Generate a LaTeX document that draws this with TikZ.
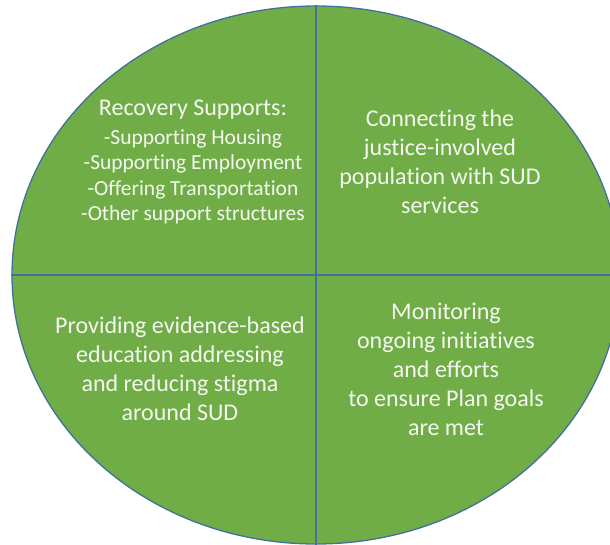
\documentclass[tikz,border=0pt]{standalone}
\usepackage{fontspec}
\setmainfont[Ligatures=NoCommon]{Carlito}
\usetikzlibrary{shapes.geometric}
\definecolor{pgreen}{HTML}{70AD47}
\definecolor{pblue}{HTML}{41719C}
\definecolor{ptext}{HTML}{F4F8F0}
\begin{document}
\begin{tikzpicture}[x=1pt,y=-1pt,
  quad/.style={text=ptext,align=center,inner sep=0pt,font=\fontsize{24}{29}\selectfont},
  divider/.style={draw=pblue,line width=1.3pt}]
\useasboundingbox (0,0) rectangle (610,545);
\clip (0,0) rectangle (610,545);
\node[ellipse,draw=pblue,line width=1.3pt,fill=pgreen,minimum width=608pt,minimum height=538pt,inner sep=0pt] (e) at (316,275) {};
\draw[divider] (e.north) -- (e.south);
\draw[divider] (e.west) -- (e.east);
\node[quad] (tl) at (193,162) {Recovery Supports:\\
  {\fontsize{21.5}{25.5}\selectfont -Supporting Housing}\\[-3.5pt]
  {\fontsize{21.5}{25.5}\selectfont -Supporting Employment}\\[-3.5pt]
  {\fontsize{21.5}{25.5}\selectfont -Offering Transportation}\\[-3.5pt]
  {\fontsize{21.5}{25.5}\selectfont -Other support structures}};
\node[quad] (tr) at (440,162) {Connecting the\\ justice-involved\\ population with SUD\\ services};
\node[quad] (bl) at (180,369) {Providing evidence-based\\ education addressing\\ and reducing stigma\\ around SUD};
\node[quad] (br) at (446,369) {Monitoring\\ ongoing initiatives\\ and efforts\\ to ensure Plan goals\\ are met};
\end{tikzpicture}
\end{document}
